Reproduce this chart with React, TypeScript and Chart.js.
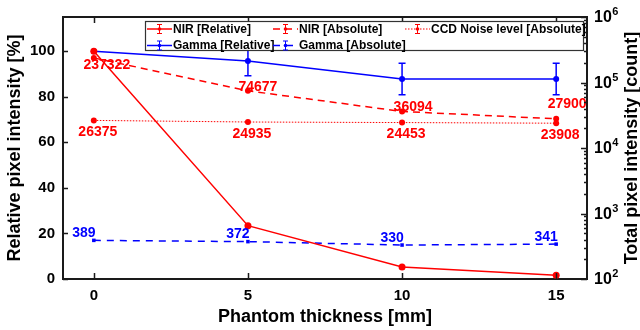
import React, { useEffect, useRef } from 'react';
import { Chart, registerables } from 'chart.js';

Chart.register(...registerables);

// ---------------- data ----------------
const thickness = [0, 5, 10, 15];
const nirRelative = [100, 23.4, 5.3, 1.7];
const gammaRelative = [100, 95.7, 87.8, 87.8];
const gammaRelativeErr = [0, 6.5, 6.9, 6.9];
const nirAbsolute = [237322, 74677, 36094, 27900];
const gammaAbsolute = [389, 372, 330, 341];
const ccdNoise = [26375, 24935, 24453, 23908];

const xTicks = [0, 5, 10, 15];
const leftTicks = [0, 20, 40, 60, 80, 100];
const rightTickExps = [2, 3, 4, 5, 6];

const X_TITLE = 'Phantom thickness [mm]';
const LEFT_TITLE = 'Relative pixel intensity [%]';
const RIGHT_TITLE = 'Total pixel intensity [count]';

// ---------------- styles ----------------
const RED = '#ff0000';
const BLUE = '#0000ff';
const AXIS = '#1a1a1a';
const FONT = "'Liberation Sans', Arial, Helvetica, sans-serif";

// label offsets (pixels) relative to their points
const NIR_ABS_LABEL_OFFSETS = [[13, 7], [10, -4], [11, -4], [11, -15]];
const CCD_LABEL_OFFSET = [4, 12];
const GAMMA_ABS_LABEL_OFFSET = [-10, -7];

const pts = (ys: number[]) => thickness.map((x, i) => ({ x, y: ys[i] }));

const customPlugin = {
  id: 'customDecor',
  afterDatasetsDraw(chart: any) {
    const { ctx, scales } = chart;
    const x = scales.x;
    ctx.save();
    // error bars
    chart.data.datasets.forEach((ds: any) => {
      if (!ds.errors) return;
      const ys = scales[ds.yAxisID];
      ds.data.forEach((p: any, j: number) => {
        const e = ds.errors[j];
        if (!e) return;
        const px = x.getPixelForValue(p.x);
        const top = ys.getPixelForValue(p.y + e);
        const bot = ys.getPixelForValue(p.y - e);
        ctx.strokeStyle = ds.borderColor;
        ctx.lineWidth = 1.5;
        ctx.setLineDash([]);
        ctx.beginPath();
        ctx.moveTo(px, top); ctx.lineTo(px, bot);
        ctx.moveTo(px - 3.5, top); ctx.lineTo(px + 3.5, top);
        ctx.moveTo(px - 3.5, bot); ctx.lineTo(px + 3.5, bot);
        ctx.stroke();
      });
    });
    // value labels
    ctx.font = `bold 14px ${FONT}`;
    ctx.textAlign = 'center';
    ctx.textBaseline = 'middle';
    chart.data.datasets.forEach((ds: any) => {
      if (!ds.valueLabels) return;
      const ys = scales[ds.yAxisID];
      ds.data.forEach((p: any, j: number) => {
        const off = ds.valueLabelOffsets ? ds.valueLabelOffsets[j] : ds.valueLabelOffset;
        const px = x.getPixelForValue(p.x) + off[0];
        const py = ys.getPixelForValue(p.y) + off[1];
        ctx.fillStyle = ds.borderColor;
        ctx.fillText(String(p.y), px, py);
      });
    });
    ctx.restore();
  },
  afterDraw(chart: any) {
    const { ctx, chartArea: ca, scales } = chart;
    const x = scales.x, y = scales.y, y1 = scales.y1;
    ctx.save();
    ctx.strokeStyle = AXIS;
    ctx.setLineDash([]);
    // top frame
    ctx.lineWidth = 2;
    ctx.beginPath();
    ctx.moveTo(ca.left - 1, ca.top);
    ctx.lineTo(ca.right + 1, ca.top);
    ctx.stroke();
    // inward ticks
    ctx.lineWidth = 1.5;
    ctx.beginPath();
    xTicks.forEach((v) => {
      const px = Math.round(x.getPixelForValue(v)) + 0.5;
      ctx.moveTo(px, ca.bottom); ctx.lineTo(px, ca.bottom - 6);
      ctx.moveTo(px, ca.top); ctx.lineTo(px, ca.top + 6);
    });
    leftTicks.forEach((v) => {
      const py = Math.round(y.getPixelForValue(v)) + 0.5;
      ctx.moveTo(ca.left, py); ctx.lineTo(ca.left + 5, py);
    });
    rightTickExps.forEach((e) => {
      const py = Math.round(y1.getPixelForValue(Math.pow(10, e))) + 0.5;
      ctx.moveTo(ca.right, py); ctx.lineTo(ca.right - 6, py);
      if (e < 6) {
        for (let m = 2; m <= 9; m++) {
          const my = Math.round(y1.getPixelForValue(m * Math.pow(10, e))) + 0.5;
          ctx.moveTo(ca.right, my); ctx.lineTo(ca.right - 3, my);
        }
      }
    });
    ctx.stroke();

    // right tick labels with superscripts
    ctx.fillStyle = '#000';
    ctx.textAlign = 'left';
    ctx.textBaseline = 'middle';
    rightTickExps.forEach((e) => {
      const py = y1.getPixelForValue(Math.pow(10, e));
      const lx = ca.right + 7;
      ctx.font = `bold 16px ${FONT}`;
      ctx.fillText('10', lx, py + 1);
      const w = ctx.measureText('10').width;
      ctx.font = `bold 11px ${FONT}`;
      ctx.fillText(String(e), lx + w + 0.5, py - 5);
    });

    // right title
    ctx.save();
    ctx.translate(632, (ca.top + ca.bottom) / 2);
    ctx.rotate(-Math.PI / 2);
    ctx.font = `bold 18px ${FONT}`;
    ctx.textAlign = 'center';
    ctx.textBaseline = 'middle';
    ctx.fillStyle = '#000';
    ctx.fillText(RIGHT_TITLE, 0, 0);
    ctx.restore();

    // legend box
    const lw = 438, lh = 29;
    const lx = ca.right - 4 - lw;
    const ly = ca.top + 4;
    ctx.fillStyle = '#fff';
    ctx.fillRect(lx, ly, lw, lh);
    ctx.strokeStyle = '#333';
    ctx.lineWidth = 1.2;
    ctx.strokeRect(lx + 0.5, ly + 0.5, lw, lh);
    const colX = [2, 128, 260];
    const rowY = [8, 24.5];
    ctx.font = `bold 12px ${FONT}`;
    ctx.textBaseline = 'middle';
    ctx.textAlign = 'left';
    chart.data.datasets.forEach((ds: any, i: number) => {
      const sx = lx + colX[Math.floor(i / 2)];
      const cy = ly + rowY[i % 2];
      ctx.strokeStyle = ds.borderColor;
      ctx.lineWidth = ds.borderWidth;
      ctx.setLineDash(ds.borderDash || []);
      ctx.beginPath();
      ctx.moveTo(sx, cy); ctx.lineTo(sx + 25, cy);
      ctx.stroke();
      ctx.setLineDash([]);
      ctx.lineWidth = 1;
      const cx = sx + 12.5;
      ctx.beginPath();
      ctx.moveTo(cx, cy - 4.5); ctx.lineTo(cx, cy + 4.5);
      ctx.moveTo(cx - 2.5, cy - 4.5); ctx.lineTo(cx + 2.5, cy - 4.5);
      ctx.moveTo(cx - 2.5, cy + 4.5); ctx.lineTo(cx + 2.5, cy + 4.5);
      ctx.stroke();
      ctx.fillStyle = ds.borderColor;
      ctx.beginPath();
      ctx.arc(cx, cy, 1.8, 0, Math.PI * 2);
      ctx.fill();
      ctx.fillStyle = '#000';
      ctx.fillText(ds.label, sx + 26, cy + 0.5);
    });
    ctx.restore();
  },
};

export default function App() {
  const ref = useRef<HTMLCanvasElement | null>(null);
  useEffect(() => {
    if (!ref.current) return;
    const tickFont = { family: FONT, size: 15, weight: 'bold' as const };
    const titleFont = { family: FONT, size: 18, weight: 'bold' as const };
    const chart = new Chart(ref.current, {
      type: 'line',
      data: {
        datasets: [
          {
            label: 'NIR [Relative]', data: pts(nirRelative), yAxisID: 'y',
            borderColor: RED, backgroundColor: RED, borderWidth: 1.5,
            pointRadius: 3.5, pointBorderWidth: 0,
          },
          {
            label: 'Gamma [Relative]', data: pts(gammaRelative), yAxisID: 'y',
            borderColor: BLUE, backgroundColor: BLUE, borderWidth: 1.5,
            pointRadius: 3, pointBorderWidth: 0, errors: gammaRelativeErr,
          },
          {
            label: 'NIR [Absolute]', data: pts(nirAbsolute), yAxisID: 'y1',
            borderColor: RED, backgroundColor: RED, borderWidth: 1.5, borderDash: [7, 5],
            pointRadius: 3, pointBorderWidth: 0,
            valueLabels: true, valueLabelOffsets: NIR_ABS_LABEL_OFFSETS,
          },
          {
            label: 'Gamma [Absolute]', data: pts(gammaAbsolute), yAxisID: 'y1',
            borderColor: BLUE, backgroundColor: BLUE, borderWidth: 1.5, borderDash: [7, 6],
            pointRadius: 2.5, pointStyle: 'rect', pointBorderWidth: 0,
            valueLabels: true, valueLabelOffset: GAMMA_ABS_LABEL_OFFSET,
          },
          {
            label: 'CCD Noise level [Absolute]', data: pts(ccdNoise), yAxisID: 'y1',
            borderColor: RED, backgroundColor: RED, borderWidth: 1, borderDash: [1.5, 1.5],
            pointRadius: 3, pointBorderWidth: 0,
            valueLabels: true, valueLabelOffset: CCD_LABEL_OFFSET,
          },
        ] as any,
      },
      options: {
        responsive: false,
        animation: false,
        layout: { padding: { top: 13, left: 0, right: 0, bottom: 0 } },
        plugins: { legend: { display: false }, tooltip: { enabled: false } },
        scales: {
          x: {
            type: 'linear', min: -1, max: 16,
            afterBuildTicks: (s: any) => { s.ticks = xTicks.map((v) => ({ value: v })); },
            afterFit: (s: any) => { s.height = 51; },
            grid: { display: false, drawTicks: false },
            border: { display: true, color: AXIS, width: 2 },
            ticks: { padding: 8, color: '#000', font: tickFont, maxRotation: 0 },
            title: { display: true, text: X_TITLE, color: '#000', font: titleFont, padding: { top: 0, bottom: 2 } },
          },
          y: {
            type: 'linear', position: 'left', min: 0, max: 115,
            afterBuildTicks: (s: any) => { s.ticks = leftTicks.map((v) => ({ value: v })); },
            afterFit: (s: any) => { s.width = 63; },
            grid: { display: false, drawTicks: false },
            border: { display: true, color: AXIS, width: 2 },
            ticks: { padding: 8, color: '#000', font: tickFont },
            title: { display: true, text: LEFT_TITLE, color: '#000', font: titleFont, padding: { top: 4, bottom: 0 } },
          },
          y1: {
            type: 'logarithmic', position: 'right', min: 100, max: 1e6,
            afterBuildTicks: (s: any) => { s.ticks = rightTickExps.map((e) => ({ value: Math.pow(10, e) })); },
            afterFit: (s: any) => { s.width = 53; },
            grid: { display: false, drawTicks: false },
            border: { display: true, color: AXIS, width: 2 },
            ticks: { display: false },
          },
        } as any,
      },
      plugins: [customPlugin],
    });
    return () => chart.destroy();
  }, []);
  return (
    <div style={{ position: 'fixed', left: 0, top: 0, width: 640, height: 330, background: '#fff' }}>
      <canvas ref={ref} width={640} height={330} />
    </div>
  );
}
